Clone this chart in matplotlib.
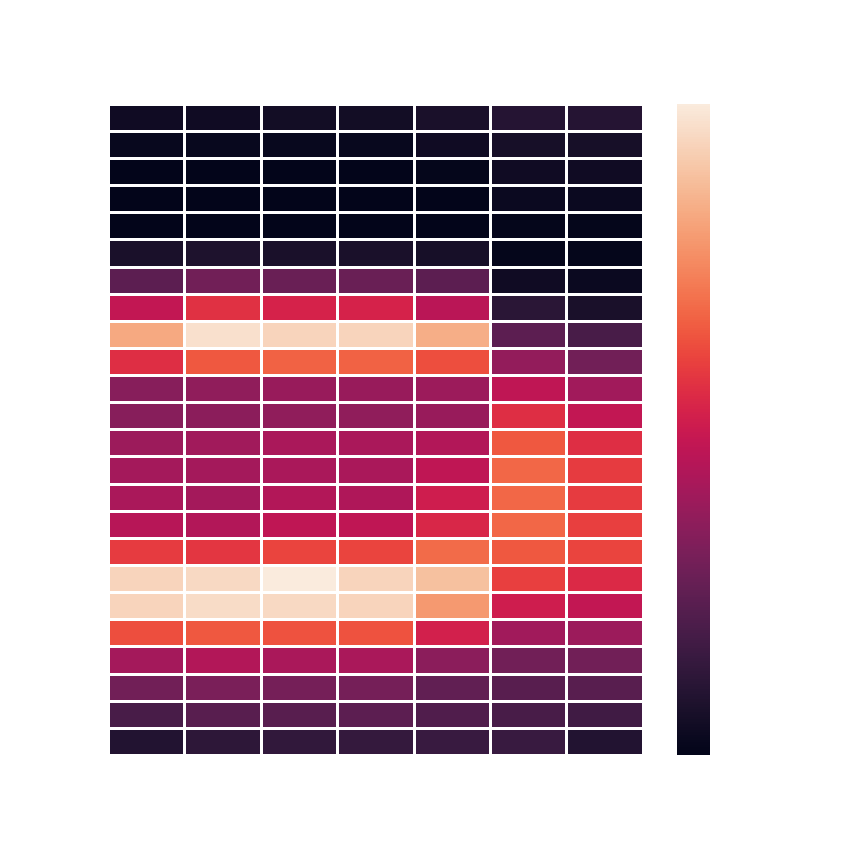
import numpy as np
import matplotlib
matplotlib.use("Agg")
import matplotlib.pyplot as plt
import seaborn as sns

hours = [f"{h:02d}" for h in range(24)]
days = ["Mon", "Tue", "Wed", "Thu", "Fri", "Sat", "Sun"]

row00 = [0.04, 0.04, 0.05, 0.05, 0.07, 0.10, 0.10]
row01 = [0.02, 0.02, 0.02, 0.02, 0.04, 0.06, 0.06]
row02 = [0.00, 0.00, 0.00, 0.00, 0.01, 0.04, 0.04]
row03 = [0.00, 0.00, 0.00, 0.00, 0.00, 0.03, 0.03]
row04 = [0.00, 0.00, 0.00, 0.00, 0.00, 0.01, 0.01]
row05 = [0.07, 0.08, 0.07, 0.07, 0.06, 0.01, 0.01]
row06 = [0.24, 0.29, 0.27, 0.27, 0.24, 0.04, 0.03]
row07 = [0.48, 0.57, 0.53, 0.53, 0.46, 0.11, 0.07]
row08 = [0.83, 0.97, 0.94, 0.94, 0.84, 0.24, 0.19]
row09 = [0.56, 0.65, 0.67, 0.67, 0.63, 0.37, 0.29]
row10 = [0.34, 0.36, 0.38, 0.38, 0.39, 0.47, 0.40]
row11 = [0.34, 0.35, 0.36, 0.36, 0.38, 0.56, 0.48]
row12 = [0.39, 0.40, 0.42, 0.42, 0.44, 0.65, 0.56]
row13 = [0.41, 0.41, 0.42, 0.42, 0.47, 0.68, 0.59]
row14 = [0.42, 0.41, 0.44, 0.43, 0.51, 0.68, 0.59]
row15 = [0.45, 0.44, 0.47, 0.47, 0.54, 0.68, 0.60]
row16 = [0.59, 0.58, 0.61, 0.61, 0.69, 0.65, 0.61]
row17 = [0.94, 0.95, 1.00, 0.94, 0.89, 0.60, 0.55]
row18 = [0.94, 0.96, 0.95, 0.94, 0.79, 0.51, 0.48]
row19 = [0.63, 0.65, 0.64, 0.64, 0.52, 0.40, 0.39]
row20 = [0.41, 0.44, 0.42, 0.42, 0.35, 0.29, 0.29]
row21 = [0.29, 0.31, 0.30, 0.30, 0.25, 0.23, 0.23]
row22 = [0.19, 0.23, 0.23, 0.24, 0.21, 0.19, 0.17]
row23 = [0.09, 0.12, 0.13, 0.14, 0.15, 0.15, 0.09]

values = np.array([row00, row01, row02, row03, row04, row05, row06, row07,
                   row08, row09, row10, row11, row12, row13, row14, row15,
                   row16, row17, row18, row19, row20, row21, row22, row23])

fig = plt.figure(figsize=(8.64, 8.64), dpi=100)
ax = fig.add_axes([0.125, 0.1262, 0.619, 0.7538])
cax = fig.add_axes([0.7836, 0.1262, 0.0382, 0.7538])
sns.heatmap(values, ax=ax, cbar_ax=cax, cmap="rocket", linewidths=1.0,
            linecolor="white", xticklabels=False, yticklabels=False)
cax.set_yticks([])
cax.tick_params(length=0)
for s in cax.spines.values():
    s.set_visible(False)
fig.savefig("out.png", dpi=100)
